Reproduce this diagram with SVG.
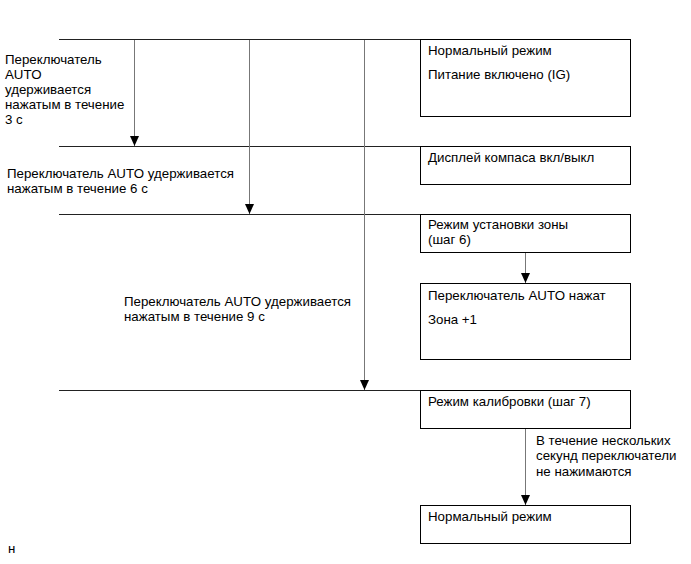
<svg xmlns="http://www.w3.org/2000/svg" width="691" height="564" viewBox="0 0 691 564">
<style>
text{font-family:"Liberation Sans",Arial,sans-serif;font-size:13.3px;fill:#000}
.box{fill:#fff;stroke:#000;stroke-width:1}
.h{stroke:#222;stroke-width:1;fill:none}
.v{stroke:#777;stroke-width:1;fill:none}
</style>
<defs>
<marker id="arr" markerWidth="12" markerHeight="12" refX="10" refY="4.5" orient="auto" markerUnits="userSpaceOnUse">
<path d="M0,0 L10,4.5 L0,9 Z" fill="#000"/>
</marker>
</defs>
<rect width="691" height="564" fill="#fff"/>
<g id="connectors">
<line class="h" x1="59" y1="39.5" x2="420" y2="39.5"/>
<line class="h" x1="59" y1="146.5" x2="420" y2="146.5"/>
<line class="h" x1="59" y1="214.5" x2="420" y2="214.5"/>
<line class="h" x1="59" y1="390.5" x2="420" y2="390.5"/>
<line class="v" x1="134.5" y1="40" x2="134.5" y2="146" marker-end="url(#arr)"/>
<line class="v" x1="249.5" y1="40" x2="249.5" y2="214" marker-end="url(#arr)"/>
<line class="v" x1="364.5" y1="40" x2="364.5" y2="390" marker-end="url(#arr)"/>
<line class="v" x1="525.5" y1="252" x2="525.5" y2="283" marker-end="url(#arr)"/>
<line class="v" x1="525.5" y1="428" x2="525.5" y2="505" marker-end="url(#arr)"/>
</g>
<g id="label-3s">
<text x="5" y="64">Переключатель</text>
<text x="5" y="79">AUTO</text>
<text x="5" y="94">удерживается</text>
<text x="5" y="109">нажатым в течение</text>
<text x="5" y="124">3 с</text>
</g>
<g id="label-6s">
<text x="7" y="178">Переключатель AUTO удерживается</text>
<text x="7" y="193">нажатым в течение 6 с</text>
</g>
<g id="label-9s">
<text x="124" y="306">Переключатель AUTO удерживается</text>
<text x="124" y="321">нажатым в течение 9 с</text>
</g>
<g id="node-normal">
<rect class="box" x="420.5" y="39.5" width="210" height="77"/>
<text x="428" y="55">Нормальный режим</text>
<text x="428" y="79">Питание включено (IG)</text>
</g>
<g id="node-compass">
<rect class="box" x="420.5" y="146.5" width="210" height="38"/>
<text x="428" y="162">Дисплей компаса вкл/выкл</text>
</g>
<g id="node-zone">
<rect class="box" x="420.5" y="214.5" width="210" height="38"/>
<text x="428" y="229">Режим установки зоны</text>
<text x="428" y="244">(шаг 6)</text>
</g>
<g id="node-pressed">
<rect class="box" x="420.5" y="283.5" width="210" height="76"/>
<text x="428" y="300">Переключатель AUTO нажат</text>
<text x="428" y="324">Зона +1</text>
</g>
<g id="node-calib">
<rect class="box" x="420.5" y="390.5" width="210" height="38"/>
<text x="428" y="406">Режим калибровки (шаг 7)</text>
</g>
<g id="label-nopress">
<text x="536" y="445">В течение нескольких</text>
<text x="536" y="460">секунд переключатели</text>
<text x="536" y="476">не нажимаются</text>
</g>
<g id="node-normal2">
<rect class="box" x="420.5" y="505.5" width="210" height="38"/>
<text x="428" y="521">Нормальный режим</text>
</g>
<text x="8" y="553">н</text>
</svg>
